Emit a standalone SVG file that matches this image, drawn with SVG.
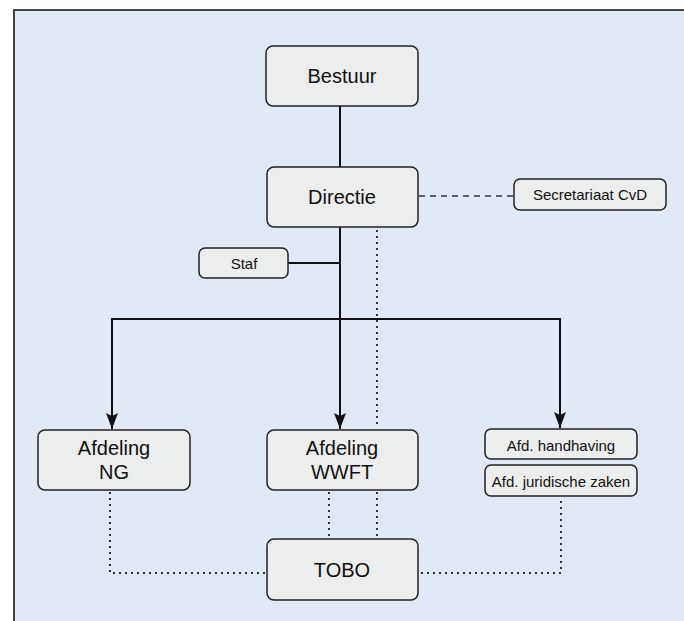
<svg xmlns="http://www.w3.org/2000/svg" width="684" height="621" viewBox="0 0 684 621">
<defs>
<style>
.box{fill:#ECEDED;stroke:#222;stroke-width:1.5}
.t{font-family:"Liberation Sans",Arial,sans-serif;fill:#111;text-anchor:middle}
.big{font-size:20px}
.sm{font-size:15px}
.solid{stroke:#111;stroke-width:2;fill:none}
.dot{stroke:#333;stroke-width:2;stroke-dasharray:2 4;fill:none}
.dash{stroke:#333;stroke-width:1.5;stroke-dasharray:6 5;fill:none}
</style>
<marker id="arr" markerUnits="userSpaceOnUse" viewBox="0 0 16 12" refX="16" refY="6" markerWidth="16" markerHeight="12" orient="auto">
<path d="M0,0 L16,6 L0,12 L3,6 z" fill="#111"/>
</marker>
</defs>
<rect x="14" y="10" width="700" height="700" fill="#E2E9F6" stroke="#444" stroke-width="2"/>
<g id="connectors">
<line class="solid" x1="340" y1="105" x2="340" y2="167"/>
<line class="dash" x1="419" y1="196" x2="513" y2="196"/>
<line class="solid" x1="288" y1="263" x2="340" y2="263"/>
<line class="solid" x1="340" y1="227" x2="340" y2="429" marker-end="url(#arr)"/>
<line class="solid" x1="111" y1="319" x2="561" y2="319"/>
<line class="solid" x1="112" y1="318" x2="112" y2="429" marker-end="url(#arr)"/>
<line class="solid" x1="560" y1="318" x2="560" y2="428" marker-end="url(#arr)"/>
<line class="dot" x1="377" y1="230" x2="377" y2="428"/>
<line class="dot" x1="377" y1="492" x2="377" y2="538"/>
<line class="dot" x1="329" y1="492" x2="329" y2="538"/>
<polyline class="dot" points="110,492 110,573 266,573"/>
<polyline class="dot" points="421,573 561,573 561,497"/>
</g>
<g id="bestuur"><rect class="box" x="266" y="46" width="152" height="60" rx="7"/><text class="t big" x="342" y="83">Bestuur</text></g>
<g id="directie"><rect class="box" x="267" y="167" width="151" height="60" rx="7"/><text class="t big" x="342" y="204">Directie</text></g>
<g id="secretariaat"><rect class="box" x="514" y="179" width="152" height="31" rx="6"/><text class="t sm" x="590" y="200">Secretariaat CvD</text></g>
<g id="staf"><rect class="box" x="199" y="248" width="89" height="30" rx="6"/><text class="t sm" x="244" y="269">Staf</text></g>
<g id="afdeling-ng"><rect class="box" x="38" y="430" width="152" height="60" rx="7"/><text class="t big" x="114" y="455">Afdeling</text><text class="t big" x="114" y="479">NG</text></g>
<g id="afdeling-wwft"><rect class="box" x="267" y="430" width="151" height="60" rx="7"/><text class="t big" x="342" y="455">Afdeling</text><text class="t big" x="342" y="479">WWFT</text></g>
<g id="handhaving"><rect class="box" x="485" y="429" width="152" height="30" rx="6"/><text class="t sm" x="561" y="451">Afd. handhaving</text></g>
<g id="juridische"><rect class="box" x="485" y="465" width="152" height="31" rx="6"/><text class="t sm" x="561" y="487">Afd. juridische zaken</text></g>
<g id="tobo"><rect class="box" x="267" y="539" width="151" height="61" rx="7"/><text class="t big" x="342" y="577">TOBO</text></g>
</svg>
